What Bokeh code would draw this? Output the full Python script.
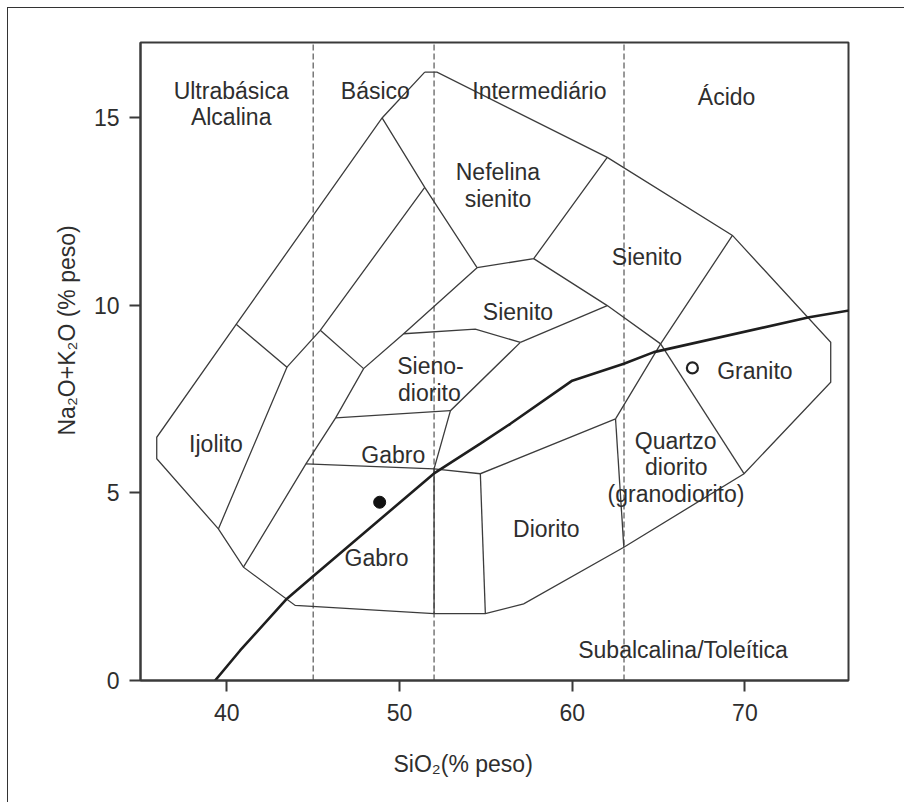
from bokeh.plotting import figure
from bokeh.models import Range1d, FixedTicker, Title
from bokeh.embed import file_html
from bokeh.resources import INLINE
from bokeh.core.properties import value

FONT = "Liberation Sans"
INK = "#2e2e2e"

# ---- axes ticks ----
x_ticks = [40, 50, 60, 70]
y_ticks = [0, 5, 10, 15]

# ---- SiO2 class dividers (dashed) ----
div_sio2 = [45, 52, 63]

# ---- outer field boundary (SiO2, Na2O+K2O) ----
outer_sio2 = [51.46, 52.17, 62.03, 69.28, 74.97, 74.97, 69.95, 62.99, 57.19, 54.97,
              52.00, 43.96, 40.96, 39.51, 35.94, 35.94, 40.54, 48.99, 51.46]
outer_alk = [16.21, 16.21, 13.94, 11.86, 9.01, 7.95, 5.51, 3.55, 2.04, 1.78,
             1.78, 2.00, 3.02, 4.04, 5.91, 6.48, 9.49, 14.99, 16.21]

# ---- inner field boundaries ----
ijolito_sio2 = [40.54, 43.48, 39.51]
ijolito_alk = [9.49, 8.35, 4.04]
band_sio2 = [43.48, 45.41, 51.46]
band_alk = [8.35, 9.33, 13.14]
nef_left_sio2 = [48.99, 51.46, 54.49]
nef_left_alk = [14.99, 13.14, 11.00]
link_sio2 = [45.41, 47.92]
link_alk = [9.33, 8.31]
long_sio2 = [54.49, 50.24, 47.92, 46.30, 44.58, 40.96]
long_alk = [11.00, 9.24, 8.31, 7.00, 5.77, 3.02]
sieno_top_sio2 = [50.24, 54.39, 57.00]
sieno_top_alk = [9.24, 9.36, 9.01]
nef_bottom_sio2 = [54.49, 57.77, 62.03]
nef_bottom_alk = [11.00, 11.24, 13.94]
sien_sio2 = [57.77, 62.03, 65.12]
sien_alk = [11.24, 9.99, 8.97]
sien_low_sio2 = [57.00, 62.03]
sien_low_alk = [9.01, 9.99]
granite_left_sio2 = [69.28, 65.12, 62.51]
granite_left_alk = [11.86, 8.97, 6.97]
granite_bottom_sio2 = [65.12, 69.95]
granite_bottom_alk = [8.97, 5.51]
sieno_right_sio2 = [57.00, 52.95, 52.00, 52.00]
sieno_right_alk = [9.01, 7.19, 5.64, 1.78]
gabro_top_sio2 = [46.30, 52.95]
gabro_top_alk = [7.00, 7.19]
gabro_bottom_sio2 = [44.58, 52.00, 54.68, 62.51]
gabro_bottom_alk = [5.77, 5.64, 5.51, 6.97]
diorite_left_sio2 = [54.68, 54.97]
diorite_left_alk = [5.51, 1.78]
diorite_right_sio2 = [62.51, 62.99]
diorite_right_alk = [6.97, 3.55]

# ---- alkaline / subalkaline divider ----
alk_line_sio2 = [39.32, 40.77, 43.48, 44.93, 51.98, 54.68, 56.42, 60.00, 62.99, 64.73, 73.72, 76.04]
alk_line_alk = [0.00, 0.80, 2.18, 2.75, 5.51, 6.31, 6.84, 7.99, 8.44, 8.75, 9.68, 9.86]

# ---- samples ----
sample_basic = (48.85, 4.75)
sample_acid = (66.96, 8.33)

# ---- field names ----
field_names = ["Ultrabásica", "Alcalina", "Básico", "Intermediário", "Ácido",
               "Nefelina", "sienito", "Sienito", "Sienito", "Sieno-", "diorito",
               "Gabro", "Gabro", "Ijolito", "Diorito", "Quartzo", "diorito",
               "(granodiorito)", "Granito", "Subalcalina/Toleítica"]
field_x = [40.25, 40.25, 48.60, 58.10, 68.94, 55.70, 55.70, 64.33, 56.86, 51.79, 51.73,
           49.64, 48.67, 39.37, 58.50, 65.99, 66.03, 66.01, 70.58, 66.42]
field_y = [15.72, 15.01, 15.72, 15.72, 15.56, 13.54, 12.84, 11.28, 9.81, 8.37, 7.66,
           6.00, 3.26, 6.31, 4.04, 6.39, 5.68, 4.97, 8.26, 0.80]

x_title = "SiO₂(% peso)"
y_title = "Na₂O+K₂O (% peso)"

W, H = 897, 795
p = figure(width=W, height=H, x_range=Range1d(35, 76), y_range=Range1d(0, 17),
           output_backend="svg", toolbar_location=None,
           min_border_left=132, min_border_right=57, min_border_top=34, min_border_bottom=123)
p.styles = {"margin-left": "7px", "margin-top": "7px",
            "border-left": "1px solid #333", "border-top": "1px solid #333"}
p.grid.visible = False
p.background_fill_color = "white"
p.border_fill_color = "white"
p.outline_line_color = "#3a3a3a"
p.outline_line_width = 2

for ax, ticks, standoff in ((p.xaxis, x_ticks, 12), (p.yaxis, y_ticks, 10)):
    ax.ticker = FixedTicker(ticks=ticks)
    ax.major_tick_out = 11
    ax.major_tick_in = 0
    ax.minor_tick_out = 0
    ax.minor_tick_in = 0
    ax.major_tick_line_width = 2
    ax.major_tick_line_color = "#3a3a3a"
    ax.axis_line_width = 2
    ax.axis_line_color = "#3a3a3a"
    ax.major_label_text_font = FONT
    ax.major_label_text_font_size = "23px"
    ax.major_label_text_color = INK
    ax.major_label_standoff = standoff

p.segment(x0=div_sio2, y0=[0] * len(div_sio2), x1=div_sio2, y1=[17] * len(div_sio2),
          line_dash="6 3", line_color="#555555", line_width=1.2)

xs = [outer_sio2, ijolito_sio2, band_sio2, nef_left_sio2, link_sio2, long_sio2, sieno_top_sio2,
      nef_bottom_sio2, sien_sio2, sien_low_sio2, granite_left_sio2, granite_bottom_sio2,
      sieno_right_sio2, gabro_top_sio2, gabro_bottom_sio2, diorite_left_sio2, diorite_right_sio2]
ys = [outer_alk, ijolito_alk, band_alk, nef_left_alk, link_alk, long_alk, sieno_top_alk,
      nef_bottom_alk, sien_alk, sien_low_alk, granite_left_alk, granite_bottom_alk,
      sieno_right_alk, gabro_top_alk, gabro_bottom_alk, diorite_left_alk, diorite_right_alk]
p.multi_line(xs=xs, ys=ys, line_color="#3c3c3c", line_width=1.3, line_join="miter")

p.line(alk_line_sio2, alk_line_alk, line_color="#1e1e1e", line_width=2.6)

p.scatter([sample_basic[0]], [sample_basic[1]], size=12, marker="circle",
          fill_color="#111111", line_color="#111111")
p.scatter([sample_acid[0]], [sample_acid[1]], size=11, marker="circle",
          fill_color="white", line_color="#222222", line_width=2.2)

p.text(x=field_x, y=field_y, text=field_names, text_font=value(FONT), text_font_size="23px",
       text_align="center", text_baseline="alphabetic", text_color=INK)

p.add_layout(Title(text=x_title, align="left", offset=253, standoff=51,
                   text_font=FONT, text_font_size="23px", text_font_style="normal",
                   text_color=INK), "below")
p.add_layout(Title(text=y_title, align="left", offset=245, standoff=22,
                   text_font=FONT, text_font_size="23px", text_font_style="normal",
                   text_color=INK), "left")

open("out.html", "w").write(file_html(p, INLINE))
